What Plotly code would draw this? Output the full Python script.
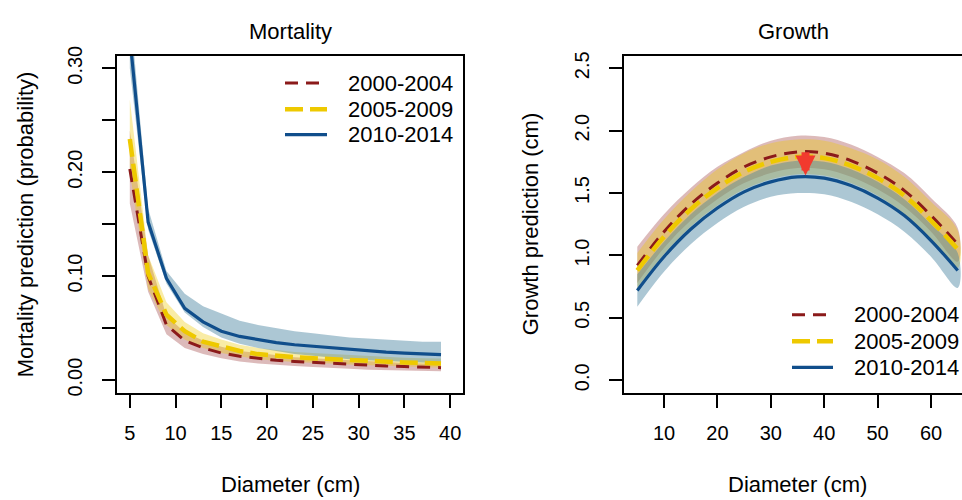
import plotly.graph_objects as go

# ---------------- data ----------------
periods = ["2000-2004", "2005-2009", "2010-2014"]

# Mortality panel (diameter in cm)
mort_d = [5, 7, 9, 11, 13, 15, 17, 19, 21, 23, 25, 27, 29, 31, 33, 35, 37, 39]
mort_red = [0.203, 0.100, 0.053, 0.038, 0.031, 0.026, 0.023, 0.021, 0.019, 0.018,
            0.017, 0.016, 0.015, 0.014, 0.0135, 0.013, 0.0125, 0.012]
mort_red_lo = [0.170, 0.085, 0.044, 0.031, 0.025, 0.021, 0.018, 0.016, 0.0145, 0.0135,
               0.0125, 0.0115, 0.011, 0.010, 0.0095, 0.009, 0.0088, 0.0085]
mort_red_hi = [0.240, 0.120, 0.062, 0.046, 0.038, 0.032, 0.028, 0.026, 0.024, 0.022,
               0.021, 0.020, 0.019, 0.018, 0.017, 0.0165, 0.016, 0.0155]
mort_yel = [0.232, 0.103, 0.063, 0.047, 0.037, 0.032, 0.028, 0.025, 0.023, 0.022,
            0.021, 0.020, 0.019, 0.018, 0.0175, 0.017, 0.0165, 0.016]
mort_yel_lo = [0.200, 0.088, 0.053, 0.039, 0.031, 0.026, 0.023, 0.020, 0.0185, 0.0175,
               0.0165, 0.016, 0.015, 0.014, 0.0135, 0.013, 0.0125, 0.012]
mort_yel_hi = [0.270, 0.120, 0.075, 0.056, 0.045, 0.039, 0.034, 0.031, 0.029, 0.027,
               0.026, 0.025, 0.024, 0.023, 0.022, 0.0215, 0.021, 0.0207]
mort_blu = [0.330, 0.152, 0.098, 0.069, 0.056, 0.047, 0.042, 0.039, 0.036, 0.034,
            0.0325, 0.031, 0.0295, 0.028, 0.027, 0.026, 0.025, 0.0245]
mort_blu_lo = [0.300, 0.145, 0.093, 0.065, 0.051, 0.041, 0.035, 0.031, 0.028, 0.025,
               0.023, 0.0215, 0.020, 0.019, 0.018, 0.0175, 0.017, 0.0165]
mort_blu_hi = [0.360, 0.165, 0.105, 0.083, 0.071, 0.064, 0.057, 0.053, 0.050, 0.047,
               0.045, 0.043, 0.041, 0.040, 0.039, 0.038, 0.037, 0.037]

# Growth panel
grow_d = [5, 10, 15, 20, 25, 30, 35, 40, 45, 50, 55, 60, 65]
grow_red = [0.92, 1.19, 1.41, 1.58, 1.71, 1.79, 1.83, 1.82, 1.76, 1.66, 1.52, 1.32, 1.09]
grow_red_lo = [0.78, 1.06, 1.28, 1.45, 1.58, 1.66, 1.70, 1.69, 1.63, 1.53, 1.39, 1.19, 0.95]
grow_red_hi = [1.07, 1.33, 1.54, 1.71, 1.83, 1.92, 1.96, 1.95, 1.89, 1.79, 1.66, 1.46, 1.22]
grow_yel = [0.88, 1.15, 1.37, 1.54, 1.67, 1.75, 1.79, 1.78, 1.72, 1.62, 1.48, 1.28, 1.05]
grow_yel_lo = [0.74, 1.01, 1.23, 1.40, 1.53, 1.61, 1.65, 1.64, 1.58, 1.48, 1.33, 1.13, 0.90]
grow_yel_hi = [1.02, 1.29, 1.51, 1.69, 1.82, 1.90, 1.93, 1.92, 1.86, 1.77, 1.63, 1.43, 1.20]
grow_blu = [0.72, 0.99, 1.21, 1.38, 1.51, 1.59, 1.63, 1.62, 1.56, 1.46, 1.32, 1.12, 0.88]
grow_blu_lo = [0.59, 0.87, 1.09, 1.26, 1.39, 1.47, 1.50, 1.49, 1.43, 1.33, 1.19, 0.99, 0.74]
grow_blu_hi = [0.85, 1.11, 1.33, 1.50, 1.63, 1.72, 1.76, 1.75, 1.69, 1.59, 1.45, 1.25, 1.02]

# arrow marking the drop in peak growth
arrow_x = 36.5
arrow_from = 1.84
arrow_to = 1.64

mort_yticks = [0.00, 0.05, 0.10, 0.15, 0.20, 0.25, 0.30]
mort_ylabels = ["0.00", "", "0.10", "", "0.20", "", "0.30"]
mort_xticks = [5, 10, 15, 20, 25, 30, 35, 40]
grow_yticks = [0.0, 0.5, 1.0, 1.5, 2.0, 2.5]
grow_ylabels = ["0.0", "0.5", "1.0", "1.5", "2.0", "2.5"]
grow_xticks = [10, 20, 30, 40, 50, 60]

# ---------------- styles ----------------
FONT = "Liberation Sans, Arial, sans-serif"
line_cols = ["#8B1A1A", "#EEC900", "#104E8B"]
band_cols = ["rgba(139,26,26,0.30)", "rgba(238,201,0,0.35)", "rgba(70,130,160,0.45)"]
dashes = ["13px,8px", "18px,7px", "solid"]
widths = [3, 4.5, 3.2]

W, H = 962, 500
fig = go.Figure()

def band(x, lo, hi, col, xa, ya, shape):
    fig.add_trace(go.Scatter(
        x=list(x) + list(x)[::-1], y=list(hi) + list(lo)[::-1],
        fill="toself", fillcolor=col, mode="lines",
        line=dict(width=0, shape=shape, color="rgba(0,0,0,0)"),
        hoverinfo="skip", showlegend=False, xaxis=xa, yaxis=ya))

def curve(x, y, i, xa, ya, shape):
    fig.add_trace(go.Scatter(
        x=x, y=y, mode="lines", name=periods[i],
        line=dict(color=line_cols[i], width=widths[i], dash=dashes[i], shape=shape),
        showlegend=False, xaxis=xa, yaxis=ya))

# Mortality
band(mort_d, mort_red_lo, mort_red_hi, band_cols[0], "x", "y", "linear")
band(mort_d, mort_yel_lo, mort_yel_hi, band_cols[1], "x", "y", "linear")
band(mort_d, mort_blu_lo, mort_blu_hi, band_cols[2], "x", "y", "linear")
curve(mort_d, mort_red, 0, "x", "y", "linear")
curve(mort_d, mort_yel, 1, "x", "y", "linear")
curve(mort_d, mort_blu, 2, "x", "y", "linear")

# Growth
band(grow_d, grow_red_lo, grow_red_hi, band_cols[0], "x2", "y2", "spline")
band(grow_d, grow_yel_lo, grow_yel_hi, band_cols[1], "x2", "y2", "spline")
band(grow_d, grow_blu_lo, grow_blu_hi, band_cols[2], "x2", "y2", "spline")
curve(grow_d, grow_red, 0, "x2", "y2", "spline")
curve(grow_d, grow_yel, 1, "x2", "y2", "spline")
curve(grow_d, grow_blu, 2, "x2", "y2", "spline")

# plot-area geometry (px)
L1, R1 = 117, 463
L2, R2 = 624, 962
TOP, BOT = 47, 393
ydom = [(H - BOT) / H, (H - TOP) / H]

axis_common = dict(showgrid=False, zeroline=False, showline=True, linecolor="black",
                   linewidth=2, ticks="outside", ticklen=13, tickwidth=2,
                   tickcolor="black",
                   tickfont=dict(family=FONT, size=20, color="black"))

fig.update_layout(
    width=W, height=H, margin=dict(l=0, r=0, t=0, b=0),
    paper_bgcolor="white", plot_bgcolor="white", showlegend=False,
    xaxis=dict(domain=[L1 / W, R1 / W], range=[3.6, 41.4], anchor="y",
               tickvals=mort_xticks, mirror=True, ticklabelstandoff=8, **axis_common),
    yaxis=dict(domain=ydom, range=[-0.0122, 0.312], anchor="x",
               tickvals=mort_yticks, ticktext=mort_ylabels, tickangle=-90,
               mirror=True, ticklabelstandoff=12, **axis_common),
    xaxis2=dict(domain=[L2 / W, R2 / W], range=[2.51, 65.8], anchor="y2",
                tickvals=grow_xticks, mirror=True, ticklabelstandoff=8, **axis_common),
    yaxis2=dict(domain=ydom, range=[-0.1, 2.6], anchor="x2",
                tickvals=grow_yticks, ticktext=grow_ylabels, tickangle=-90,
                mirror=False, ticklabelstandoff=12, **axis_common),
)

def px_ann(text, x, y, size=22, angle=0, xanchor="center"):
    fig.add_annotation(text=text, x=x / W, y=1 - y / H, xref="paper", yref="paper",
                       showarrow=False, textangle=angle, xanchor=xanchor, yanchor="middle",
                       font=dict(family=FONT, size=size, color="black"))

# titles
px_ann("Mortality", 290, 22)
px_ann("Growth", 793, 22)
px_ann("Diameter (cm)", 290, 487)
px_ann("Diameter (cm)", 797, 487)
px_ann("Mortality prediction (probability)", 25, 220, angle=-90)
px_ann("Growth prediction (cm)", 530, 220, angle=-90)

# legends (drawn manually)
def legend(x0, x1, xt, ys):
    for i, yy in enumerate(ys):
        fig.add_shape(type="line", xref="paper", yref="paper",
                      x0=x0 / W, x1=x1 / W, y0=1 - yy / H, y1=1 - yy / H,
                      line=dict(color=line_cols[i], width=widths[i], dash=dashes[i]))
        px_ann(periods[i], xt, yy, xanchor="left")

legend(285, 327, 346, [75, 102, 128])
legend(792, 833, 852, [313, 340, 367])

# arrow
fig.add_annotation(x=arrow_x, y=arrow_to, ax=arrow_x, ay=arrow_from,
                   xref="x2", yref="y2", axref="x2", ayref="y2",
                   showarrow=True, arrowhead=2, arrowsize=0.5, arrowwidth=8,
                   arrowcolor="#F23A2E", text="")

fig.write_html("out.html")
